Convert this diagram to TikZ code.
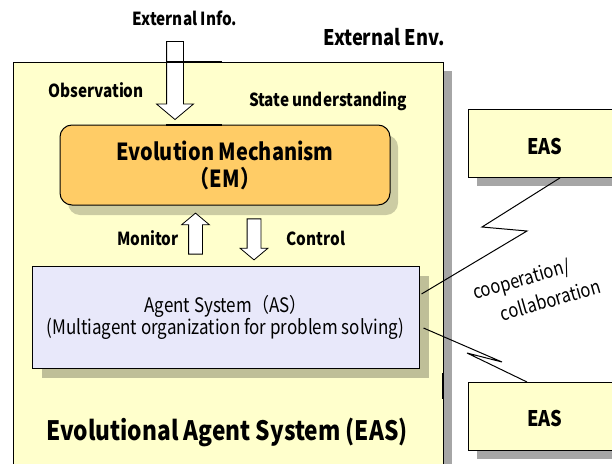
\documentclass[tikz,border=0pt]{standalone}
\usepackage{fontspec}
\setmainfont{Noto Sans CJK JP}[FakeStretch=0.85]
\usetikzlibrary{positioning,shapes.arrows,shadows}
\definecolor{envyellow}{HTML}{FFFFCC}
\definecolor{emorange}{HTML}{FFCC66}
\definecolor{aslav}{HTML}{E8E8FA}

\begin{document}
\begin{tikzpicture}[x=1pt,y=-1pt]
  \tikzset{easbox/.style = {draw,line width=0.9pt,fill=envyellow,inner sep=0pt,
      drop shadow={shadow xshift=9pt,shadow yshift=-9pt,opacity=.35,fill=black}}}
  \tikzset{embox/.style = {draw,line width=1pt,fill=emorange,rounded corners=12pt,inner sep=0pt,
      minimum width=330,minimum height=80,align=center,font=\bfseries\fontsize{23.5}{27}\selectfont,
      drop shadow={shadow xshift=8pt,shadow yshift=-10pt,opacity=.2,fill=black}}}
  \tikzset{asbox/.style = {draw,line width=1pt,fill=aslav,inner sep=0pt,
      minimum width=387,minimum height=102,align=center,font=\fontsize{20}{22}\selectfont,
      drop shadow={shadow xshift=10pt,shadow yshift=-10pt,opacity=.25,fill=black}}}
  \tikzset{blockarrow/.style = {single arrow,draw,fill=white,line width=0.8pt,inner xsep=0pt,
      single arrow tip angle=100}}
  \tikzset{lbl/.style = {inner sep=0pt,font=\bfseries\fontsize{18}{20}\selectfont}}
  \tikzset{biglbl/.style = {inner sep=0pt,font=\bfseries\fontsize{21.5}{24}\selectfont}}
  \tikzset{cooplbl/.style = {inner sep=0pt,rotate=16,align=left,font=\fontsize{19.5}{28}\selectfont}}
  \tikzset{link/.style = {line width=1pt}}
  \tikzset{cutmark/.style = {line width=2.2pt}}

  \useasboundingbox (0,0) rectangle (612,463);
  \clip (0,0) rectangle (612,463);

  \node[easbox,minimum width=430,minimum height=430,anchor=north west] (env) at (13,62) {};
  \node[easbox,minimum width=160,minimum height=68,anchor=north west] (eas1) at (468,109) {};
  \node[easbox,minimum width=160,minimum height=68,anchor=north west] (eas2) at (468,382) {};
  \node[biglbl] (eas1lbl) at (545,146) {EAS};
  \node[biglbl] (eas2lbl) at (545,418) {EAS};

  \node[embox] (em) at (225,165) {Evolution Mechanism\\（EM）};
  \node[asbox] (as) at (225.5,317) {Agent System（AS）\\(Multiagent organization for problem solving)};

  \node[blockarrow,rotate=-90,minimum height=78,inner ysep=8pt,single arrow head extend=10pt] (extarr) at (175,77) {};
  \node[blockarrow,rotate=90,minimum height=41,inner ysep=6.5pt,single arrow head extend=7pt] (monarr) at (195.5,236.5) {};
  \node[blockarrow,rotate=-90,minimum height=41,inner ysep=6.5pt,single arrow head extend=7pt] (ctlarr) at (254,236.5) {};

  \node[lbl] (extinfo) at (185,18) {External Info.};
  \node[biglbl] (extenv) at (384,37) {External Env.};
  \node[lbl] (obs) at (96,90) {Observation};
  \node[lbl] (state) at (328,101) {State understanding};
  \node[lbl] (mon) at (148,238) {Monitor};
  \node[lbl] (ctl) at (316,238) {Control};
  \node[lbl,font=\bfseries\fontsize{26.7}{30}\selectfont] (eastitle) at (227,432) {Evolutional Agent System (EAS)};
  \node[cooplbl] (coop) at (536.5,289) {cooperation/\\\hspace*{21pt}collaboration};

  % cooperation links
  \draw[link] ([shift={(2,-23)}]as.east) -- (527,231) -- (482,227) -- (eas1.south west -| 560,0);
  \draw[link] ([shift={(4,11)}]as.east) -- (502,362) -- (467,353) -- (eas2.north west -| 527,0);

  \draw[cutmark] ([xshift=153]env.north west) -- ([xshift=209]env.north west);
  \draw[cutmark] (166,125) -- (222,125);
  \draw[cutmark] (443,373) -- (443,399);
\end{tikzpicture}
\end{document}
